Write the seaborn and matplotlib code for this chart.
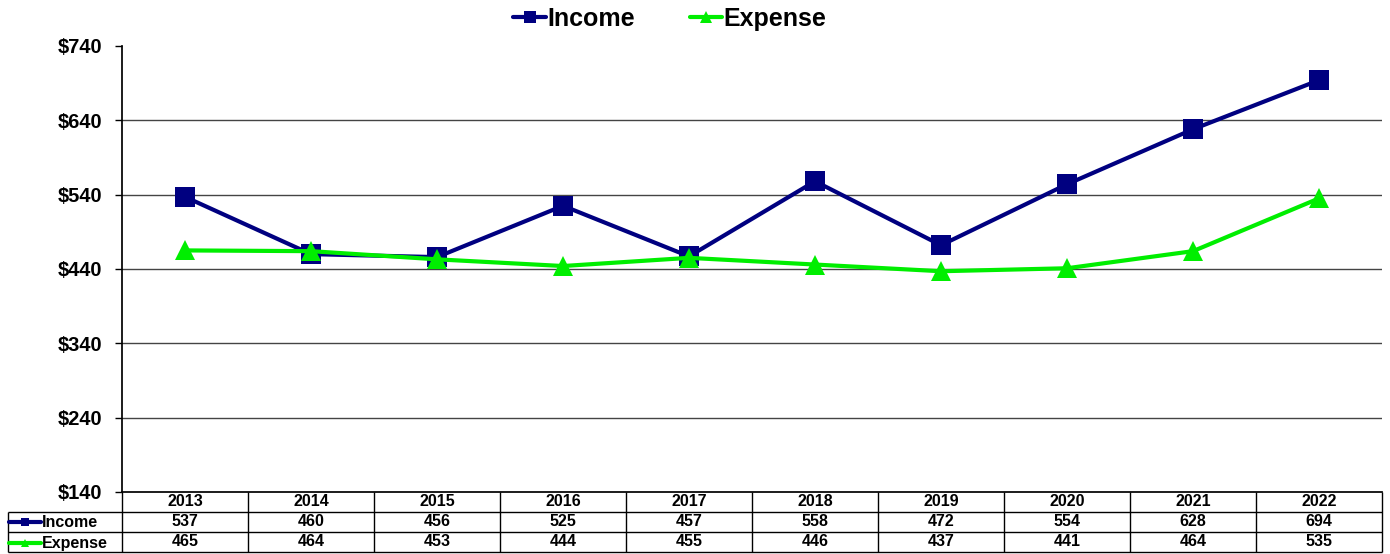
import pandas as pd
import seaborn as sns
import matplotlib.pyplot as plt

# values
years = [2013, 2014, 2015, 2016, 2017, 2018, 2019, 2020, 2021, 2022]
income = [537, 460, 456, 525, 457, 558, 472, 554, 628, 694]
expense = [465, 464, 453, 444, 455, 446, 437, 441, 464, 535]
yTicks = [140, 240, 340, 440, 540, 640, 740]

seriesNames = ['Income', 'Expense']
seriesColors = {'Income': '#000080', 'Expense': '#00ee00'}
seriesMarkers = {'Income': 's', 'Expense': '^'}

sns.set_theme(style="white")
plt.rcParams['font.family'] = ['Liberation Sans', 'DejaVu Sans']
plt.rcParams['font.weight'] = 'bold'
plt.rcParams['text.color'] = 'black'
plt.rcParams['ytick.color'] = 'black'
plt.rcParams['ytick.labelcolor'] = 'black'

# long-form frame for seaborn, x is the column index of the data table
df = pd.DataFrame({
    'pos': list(range(len(years))) * 2,
    'value': income + expense,
    'series': ['Income'] * len(years) + ['Expense'] * len(years),
})

fig = plt.figure(figsize=(13.9, 5.54), dpi=100)
W, H = 1390, 554
left, right, top, bottom = 122, 1382, 46, 492
ax = fig.add_axes([left / W, 1 - bottom / H, (right - left) / W, (bottom - top) / H])

sns.lineplot(data=df, x='pos', y='value', hue='series', style='series',
             hue_order=seriesNames, style_order=seriesNames,
             palette=seriesColors, markers=seriesMarkers, dashes=False,
             linewidth=3, markersize=14, markeredgewidth=0, ax=ax, legend=False)

ax.set_xlim(-0.5, len(years) - 0.5)
ax.set_ylim(yTicks[0], yTicks[-1])
ax.set_yticks(yTicks)
ax.set_yticklabels([f'${t}' for t in yTicks], fontsize=14.5, fontweight='bold', color='black')
ax.set_xticks([])
ax.set_xlabel('')
ax.set_ylabel('')
for t in yTicks[1:-1]:
    ax.axhline(t, color='#444444', linewidth=1, zorder=0)
for side in ['top', 'right']:
    ax.spines[side].set_visible(False)
ax.spines['left'].set_color('black')
ax.spines['bottom'].set_color('black')
ax.tick_params(axis='y', length=5, width=1, color='black', left=True, pad=9)

handles = ax.get_lines()[:2]
for h, name in zip(handles, seriesNames):
    h.set_label(name)

fig.legend(handles, seriesNames, loc='center', bbox_to_anchor=(0.482, 1 - 19 / H),
           ncol=2, frameon=False, prop={'size': 18, 'weight': 'bold'},
           handlelength=1.3, handletextpad=0.05, columnspacing=2.2, markerscale=0.65)

# data table under the plot
tblTop, tblBottom, labelLeft = 492, 552, 8
tab = fig.add_axes([left / W, 1 - tblBottom / H, (right - left) / W, (tblBottom - tblTop) / H])
tab.set_xlim(-0.5, len(years) - 0.5)
tab.set_ylim(3, 0)
tab.axis('off')
colW = (right - left) / len(years)
xLab = -0.5 - (left - labelLeft) / colW

lineKw = dict(color='black', linewidth=1, clip_on=False)
tab.vlines([i - 0.5 for i in range(len(years) + 1)], 0, 3, **lineKw)
tab.vlines([xLab], 1, 3, **lineKw)
tab.hlines([1, 2, 3], xLab, len(years) - 0.5, **lineKw)

rows = [years, income, expense]
for r, vals in enumerate(rows):
    for i, v in enumerate(vals):
        tab.text(i, r + 0.5, str(v), ha='center', va='center',
                 fontsize=11.5, fontweight='bold', color='black')

tab.legend(handles, seriesNames, loc='upper left', bbox_to_anchor=(xLab, 1.13),
           bbox_transform=tab.transData, frameon=False,
           prop={'size': 11.5, 'weight': 'bold'}, handlelength=2.0,
           handletextpad=0.1, labelspacing=0.36, borderpad=0.05,
           borderaxespad=0, markerscale=0.45)

fig.savefig('out.png', dpi=100)
